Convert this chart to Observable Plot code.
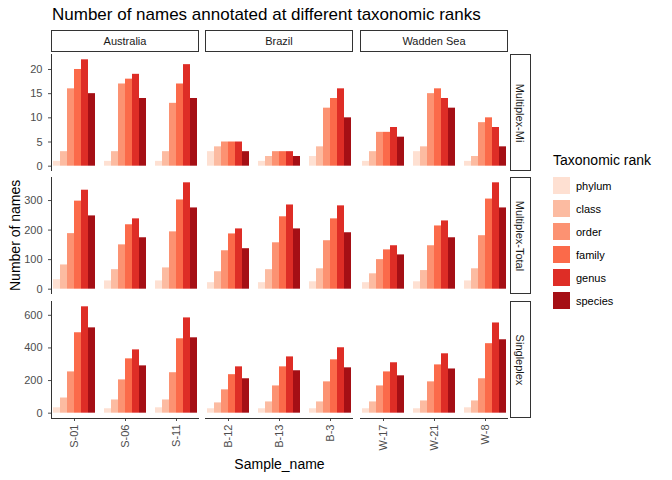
<!DOCTYPE html>
<html><head><meta charset="utf-8">
<script src="https://cdn.jsdelivr.net/npm/d3@7"></script>
<script src="https://cdn.jsdelivr.net/npm/@observablehq/plot@0.6"></script>
<style>
body{margin:0;font-family:"Liberation Sans",Arial,sans-serif;background:#fff}
#c{position:relative;width:672px;height:480px}
.abs{position:absolute}
.strip{position:absolute;border:1px solid #333;box-sizing:border-box;font-size:11px;color:#1a1a1a;display:flex;align-items:center;justify-content:center;background:#fff}
.vtext{transform:rotate(90deg);white-space:nowrap}
.line{position:absolute;background:#333}
</style></head><body><div id="c"></div>
<script>
const ranks = ["phylum","class","order","family","genus","species"]
const colors = ["#fee0d2","#fcbba1","#fc9272","#fb6a4a","#de2d26","#a50f15"]
const regions = ["Australia","Brazil","Wadden Sea"]
const samples = [["S-01","S-06","S-11"],["B-12","B-13","B-3"],["W-17","W-21","W-8"]]
const methods = ["Multiplex-Mi","Multiplex-Total","Singleplex"]
// values per method, sample order as above, ranks phylum..species
const mi = {
  "S-01":[1,3,16,20,22,15],"S-06":[1,3,17,18,19,14],"S-11":[1,3,13,17,21,14],
  "B-12":[3,4,5,5,5,3],"B-13":[1,2,3,3,3,2],"B-3":[2,4,12,14,16,10],
  "W-17":[1,3,7,7,8,6],"W-21":[3,4,15,16,14,12],"W-8":[1,2,9,10,8,4]}
const total = {
  "S-01":[32,82,188,298,335,248],"S-06":[28,66,150,218,238,174],"S-11":[28,72,194,302,360,275],
  "B-12":[22,59,130,187,204,137],"B-13":[22,66,157,245,285,204],"B-3":[25,69,164,238,282,191],
  "W-17":[22,52,100,133,147,116],"W-21":[25,63,147,214,231,174],"W-8":[28,69,181,305,360,275]}
const single = {
  "S-01":[33,93,253,493,652,523],"S-06":[27,81,204,333,388,290],"S-11":[33,81,248,456,584,462],
  "B-12":[27,63,143,236,284,211],"B-13":[27,69,167,284,345,260],"B-3":[27,69,192,327,401,278],
  "W-17":[27,69,167,253,309,229],"W-21":[27,75,192,296,364,271],"W-8":[33,75,211,426,553,450]}
const tables = [mi, total, single]
const yTicks = [[0,5,10,15,20],[0,100,200,300],[0,200,400,600]]

const c = document.getElementById("c")
const colX = [51,205,360], panelW = 148
const rowY = [54,177,301], panelH = 117

function add(html){ const d=document.createElement("div"); d.innerHTML=html; const e=d.firstChild; c.appendChild(e); return e }

add(`<div class="abs" style="left:52px;top:5px;font-size:17px;color:#000">Number of names annotated at different taxonomic ranks</div>`)

methods.forEach((m, r) => {
  const tab = tables[r]
  const max = d3.max(Object.values(tab).flat())
  regions.forEach((reg, k) => {
    const data = []
    samples[k].forEach(s => tab[s].forEach((v, i) => data.push({sample: s, rank: ranks[i], value: v})))
    const ml = k === 0 ? 51 : 0
    const mb = r === 2 ? 45 : 0
    const chart = Plot.plot({
      width: ml + panelW, height: panelH + mb,
      marginLeft: ml, marginRight: 0, marginTop: 0, marginBottom: mb,
      style: {fontFamily: "Liberation Sans, Arial, sans-serif", fontSize: "11px", color: "#4d4d4d", overflow: "visible"},
      fx: {domain: samples[k], padding: 0.1, axis: r === 2 ? "bottom" : null, tickRotate: -90, label: null, tickSize: 3, tickPadding: 3},
      x: {domain: ranks, padding: 0, axis: null},
      y: {domain: [-0.05 * max, 1.05 * max], ticks: yTicks[r], axis: k === 0 ? "left" : null, label: null, tickSize: 3},
      color: {domain: ranks, range: colors},
      marks: [
        Plot.barY(data, {fx: "sample", x: "rank", y: "value", fill: "rank"})
      ]
    })
    const wrap = add(`<div class="abs" style="left:${colX[k]-ml}px;top:${rowY[r]}px"></div>`)
    wrap.appendChild(chart)
    if (k === 0) add(`<div class="line" style="left:${colX[0]}px;top:${rowY[r]}px;width:1px;height:${panelH}px"></div>`)
    if (r === 2) add(`<div class="line" style="left:${colX[k]}px;top:${rowY[r]+panelH}px;width:${panelW}px;height:1px"></div>`)
  })
  add(`<div class="strip" style="left:510px;top:${rowY[r]}px;width:21px;height:${panelH}px"><span class="vtext">${m}</span></div>`)
})
regions.forEach((reg, k) => add(`<div class="strip" style="left:${colX[k]}px;top:30px;width:${panelW}px;height:22px">${reg}</div>`))

add(`<div class="abs" style="left:-40px;top:228px;width:110px;text-align:center;transform:rotate(-90deg);font-size:14px;color:#000;white-space:nowrap">Number of names</div>`)
add(`<div class="abs" style="left:${colX[0]}px;top:456px;width:${colX[2]+panelW-colX[0]}px;text-align:center;font-size:14px;color:#000">Sample_name</div>`)

let leg = `<div class="abs" style="left:553px;top:152px;font-size:14px;color:#000"><div style="margin-bottom:6px">Taxonomic rank</div>`
ranks.forEach((rk, i) => leg += `<div style="display:flex;align-items:center;height:23px"><span style="display:inline-block;width:17px;height:17px;background:${colors[i]};margin-right:6px"></span><span style="font-size:11px">${rk}</span></div>`)
add(leg + `</div>`)
</script></body></html>
